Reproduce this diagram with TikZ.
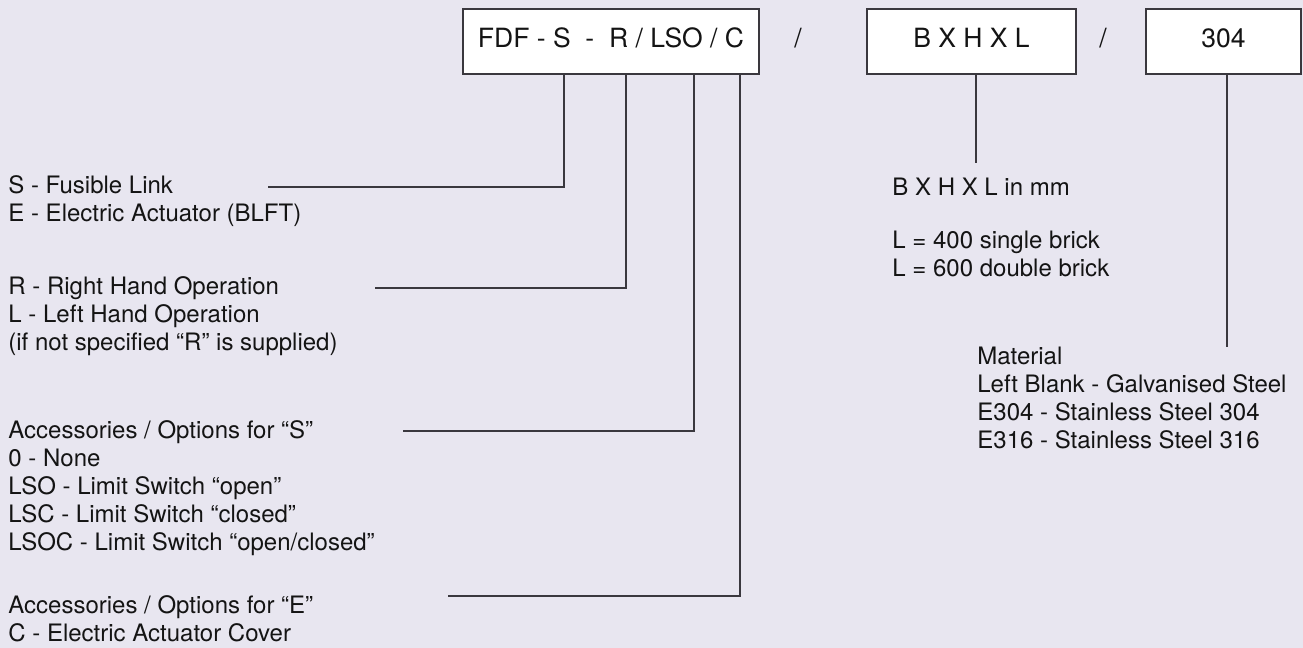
\documentclass[tikz,border=0pt]{standalone}
\usepackage{fontspec}
\setmainfont{TeX Gyre Heros}
\definecolor{bg}{RGB}{232,230,240}
\definecolor{ln}{RGB}{58,56,62}
\definecolor{txt}{RGB}{20,20,20}
\begin{document}
\begin{tikzpicture}[x=0.5pt,y=-0.5pt,
  lbl/.style={anchor=base west, inner sep=0pt, font=\fontsize{12}{14}\selectfont, text=txt},
  box/.style={draw=ln, fill=white, line width=0.65pt, font=\fontsize{13.25}{16}\selectfont, text=txt,
              text height=9.5pt, text depth=4pt, inner sep=0pt, minimum height=32.5pt},
  sep/.style={font=\fontsize{13.25}{16}\selectfont, text=txt, text height=9.5pt, text depth=4pt, inner sep=0pt},
  conn/.style={draw=ln, line width=0.7pt}]
\fill[bg] (0,0) rectangle (1303,648);
\useasboundingbox (0,0) rectangle (1303,648);

% top boxes
\node[box, minimum width=148pt] (b1) at (611,41.5) {FDF - S\ \ -\ \ R / LSO / C};
\node[sep] (sl1) at (798,41.5) {/};
\node[box, minimum width=104.5pt] (b2) at (971.5,41.5) {B X H X L};
\node[sep] (sl2) at (1103,41.5) {/};
\node[box, minimum width=77.5pt] (b3) at (1223.5,41.5) {304};

% left labels
\node[lbl] (s1) at (8,193) {S - Fusible Link};
\node[lbl] (s2) at (8,221) {E - Electric Actuator (BLFT)};

\node[lbl] (r1) at (8,294) {R - Right Hand Operation};
\node[lbl] (r2) at (8,322) {L - Left Hand Operation};
\node[lbl] (r3) at (8,350) {(if not specified “R” is supplied)};

\node[lbl] (a1) at (8,438) {Accessories / Options for “S”};
\node[lbl] (a2) at (8,466) {0 - None};
\node[lbl] (a3) at (8,494) {LSO - Limit Switch “open”};
\node[lbl] (a4) at (8,522) {LSC - Limit Switch “closed”};
\node[lbl] (a5) at (8,550) {LSOC - Limit Switch “open/closed”};

\node[lbl] (e1) at (8,613) {Accessories / Options for “E”};
\node[lbl] (e2) at (8,641) {C - Electric Actuator Cover};

% right labels
\node[lbl] (d1) at (892,195) {B X H X L in mm};
\node[lbl] (d2) at (892,248) {L = 400 single brick};
\node[lbl] (d3) at (892,276) {L = 600 double brick};

\node[lbl] (m1) at (977,364) {Material};
\node[lbl] (m2) at (977,392) {Left Blank - Galvanised Steel};
\node[lbl] (m3) at (977,420) {E304 - Stainless Steel 304};
\node[lbl] (m4) at (977,448) {E316 - Stainless Steel 316};

% connector anchors
\coordinate (cS) at (268,187);
\coordinate (tS) at (564,74);
\coordinate (cR) at (375,288);
\coordinate (tR) at (626,74);
\coordinate (cA) at (403,431);
\coordinate (tA) at (694,74);
\coordinate (cE) at (448,596);
\coordinate (tE) at (740,74);
\coordinate (cD) at (976,163);
\coordinate (cM) at (1227,347);

\draw[conn] (cS) -| (tS);
\draw[conn] (cR) -| (tR);
\draw[conn] (cA) -| (tA);
\draw[conn] (cE) -| (tE);
\draw[conn] (b2.south -| cD) -- (cD);
\draw[conn] (b3.south -| cM) -- (cM);
\end{tikzpicture}
\end{document}
